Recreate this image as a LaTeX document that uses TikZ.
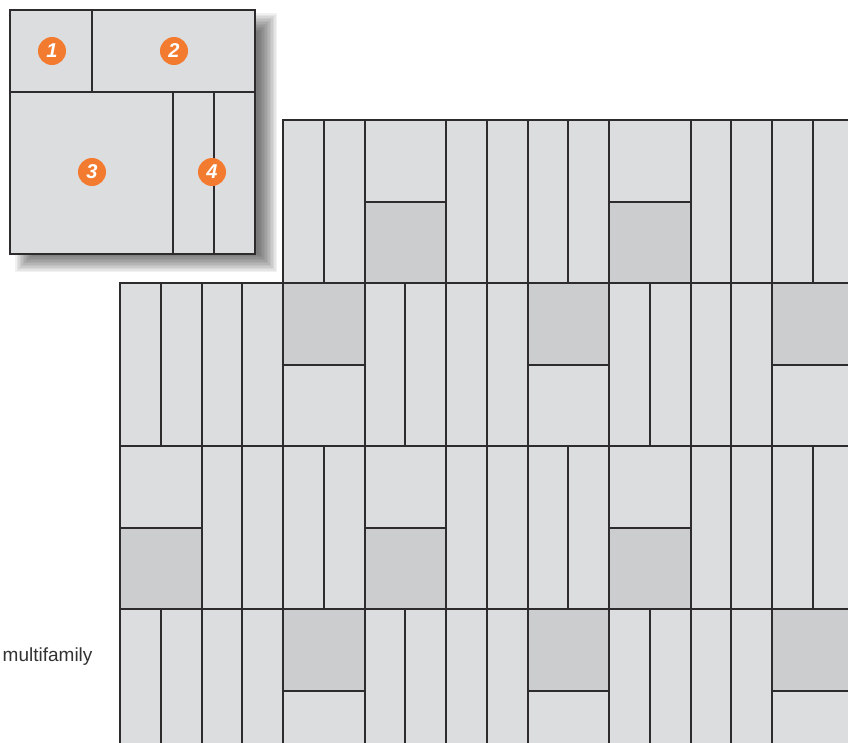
\documentclass[tikz,border=0pt]{standalone}
\usepackage{fontspec}
\setmainfont{Liberation Sans}
\definecolor{tilelight}{RGB}{220,221,223}
\definecolor{tiledark}{RGB}{204,205,207}
\definecolor{tileline}{RGB}{45,43,44}
\definecolor{badgeorange}{RGB}{243,123,48}
\definecolor{labelgray}{RGB}{50,50,50}
\tikzset{
  tile/.style={fill=tilelight,draw=tileline,line width=2pt},
  darktile/.style={tile,fill=tiledark},
  badge/.style={circle,fill=badgeorange,text=white,minimum size=28pt,inner sep=0pt,
    font=\fontsize{20}{20}\selectfont\bfseries\itshape}
}
\begin{document}
\begin{tikzpicture}[x=1pt,y=-1pt]
\useasboundingbox (0,0) rectangle (848,742);
\begin{scope}
\clip (0,0) rectangle (848,742);
% vertical strips everywhere
\foreach \r/\kfirst in {0/4,1/0,2/0,3/0}{
  \foreach \k in {\kfirst,...,17}{
    \draw[tile] ({120+40.75*\k},{120+163*\r}) rectangle +(40.75,163);
  }
}
% square pairs, light above dark
\foreach \r/\m in {0/3,0/6,2/0,2/3,2/6}{
  \draw[tile] ({120+81.5*\m},{120+163*\r}) rectangle +(81.5,81.5);
  \draw[darktile] ({120+81.5*\m},{201.5+163*\r}) rectangle +(81.5,81.5);
}
% square pairs, dark above light
\foreach \r/\m in {1/2,1/5,1/8,3/2,3/5,3/8}{
  \draw[darktile] ({120+81.5*\m},{120+163*\r}) rectangle +(81.5,81.5);
  \draw[tile] ({120+81.5*\m},{201.5+163*\r}) rectangle +(81.5,81.5);
}
\end{scope}
% key with soft shadow
\foreach \d in {-9,-7.5,...,9}
  \fill[black,opacity=0.055] ({24+\d},{22+\d}) rectangle ({268-\d},{263-\d});
\draw[tile,line width=2.4pt] (10,10) rectangle (255,254);
\draw[tileline,line width=2pt] (10,91.5) -- (255,91.5) (92,10) -- (92,91.5)
  (173,91.5) -- (173,254) (214,91.5) -- (214,254);
\node[badge] (b1) at (52,51) {1};
\node[badge] (b2) at (174,51) {2};
\node[badge] (b3) at (92,172) {3};
\node[badge] (b4) at (212,172) {4};
\node[anchor=east,text=labelgray,font=\fontsize{19}{19}\selectfont] (kind) at (96,657) {multifamily};
\end{tikzpicture}
\end{document}
